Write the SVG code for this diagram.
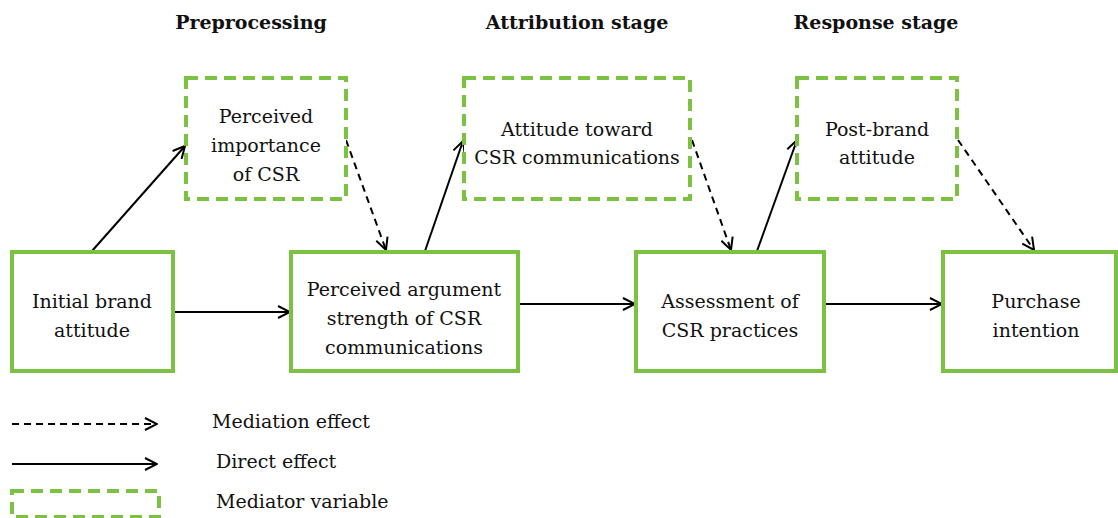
<svg xmlns="http://www.w3.org/2000/svg" width="1118" height="518" viewBox="0 0 1118 518">
<defs>
<style>
.box{fill:#fff;stroke:#7cc242;stroke-width:4}
.med{fill:#fff;stroke:#7cc242;stroke-width:4;stroke-dasharray:12 7}
.t{font-family:"DejaVu Serif",serif;font-size:19px;fill:#111;text-anchor:middle}
.h{font-family:"DejaVu Serif",serif;font-size:19px;font-weight:bold;fill:#111;text-anchor:middle}
.lg{font-family:"DejaVu Serif",serif;font-size:19px;fill:#111}
.s{stroke:#000;stroke-width:2;fill:none;marker-end:url(#ah)}
.d{stroke:#000;stroke-width:2;fill:none;stroke-dasharray:7 5;marker-end:url(#ah)}
</style>
<marker id="ah" viewBox="0 0 14 14" refX="13" refY="7" markerWidth="14" markerHeight="14" markerUnits="userSpaceOnUse" orient="auto">
<path d="M1,1 L13,7 L1,13" fill="none" stroke="#000" stroke-width="2"/>
</marker>
</defs>
<rect width="1118" height="518" fill="#fff"/>
<g id="headings">
<text class="h" x="251" y="29">Preprocessing</text>
<text class="h" x="577" y="29">Attribution stage</text>
<text class="h" x="876" y="29">Response stage</text>
</g>
<g id="connectors">
<line class="s" x1="92" y1="251" x2="185" y2="146"/>
<line class="s" x1="174" y1="312" x2="290" y2="312"/>
<line class="s" x1="519" y1="304" x2="635" y2="304"/>
<line class="s" x1="825" y1="304" x2="942" y2="304"/>
<line class="s" x1="425" y1="251" x2="463" y2="141"/>
<line class="s" x1="757" y1="251" x2="797" y2="140"/>
<line class="d" x1="346" y1="140" x2="386" y2="250"/>
<line class="d" x1="692" y1="140" x2="731" y2="250"/>
<line class="d" x1="958" y1="140" x2="1034" y2="250"/>
</g>
<g id="n-initial">
<rect class="box" x="12" y="252" width="161" height="119"/>
<text class="t" x="92" y="308">Initial brand</text>
<text class="t" x="92" y="337">attitude</text>
</g>
<g id="n-importance">
<rect class="med" x="186" y="78" width="160" height="121"/>
<text class="t" x="266" y="123">Perceived</text>
<text class="t" x="266" y="152">importance</text>
<text class="t" x="266" y="181">of CSR</text>
</g>
<g id="n-argument">
<rect class="box" x="291" y="252" width="227" height="119"/>
<text class="t" x="404" y="296">Perceived argument</text>
<text class="t" x="404" y="325">strength of CSR</text>
<text class="t" x="404" y="354">communications</text>
</g>
<g id="n-attitude">
<rect class="med" x="464" y="78" width="226" height="121"/>
<text class="t" x="577" y="136">Attitude toward</text>
<text class="t" x="577" y="164">CSR communications</text>
</g>
<g id="n-assessment">
<rect class="box" x="636" y="252" width="188" height="119"/>
<text class="t" x="730" y="308">Assessment of</text>
<text class="t" x="730" y="337">CSR practices</text>
</g>
<g id="n-post">
<rect class="med" x="797" y="78" width="160" height="121"/>
<text class="t" x="877" y="136">Post-brand</text>
<text class="t" x="877" y="164">attitude</text>
</g>
<g id="n-purchase">
<rect class="box" x="943" y="252" width="173" height="119"/>
<text class="t" x="1036" y="308">Purchase</text>
<text class="t" x="1036" y="337">intention</text>
</g>
<g id="legend">
<line class="d" x1="12" y1="424" x2="157" y2="424"/>
<line class="s" x1="12" y1="464" x2="157" y2="464"/>
<rect class="med" x="12" y="491" width="147" height="26"/>
<text class="lg" x="212" y="428">Mediation effect</text>
<text class="lg" x="216" y="468">Direct effect</text>
<text class="lg" x="216" y="508">Mediator variable</text>
</g>
</svg>
